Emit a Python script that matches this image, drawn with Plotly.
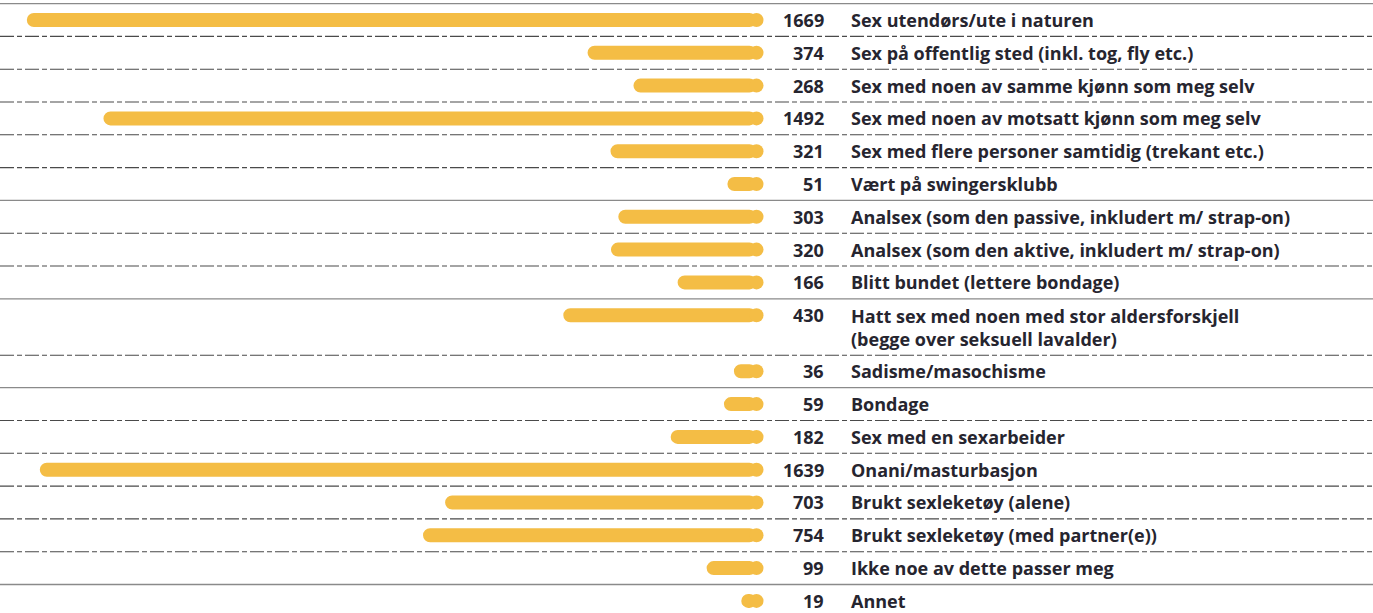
import plotly.graph_objects as go

# ---- data ----
labels = [
    "Sex utendørs/ute i naturen",
    "Sex på offentlig sted (inkl. tog, fly etc.)",
    "Sex med noen av samme kjønn som meg selv",
    "Sex med noen av motsatt kjønn som meg selv",
    "Sex med flere personer samtidig (trekant etc.)",
    "Vært på swingersklubb",
    "Analsex (som den passive, inkludert m/ strap-on)",
    "Analsex (som den aktive, inkludert m/ strap-on)",
    "Blitt bundet (lettere bondage)",
    "Hatt sex med noen med stor aldersforskjell<br>(begge over seksuell lavalder)",
    "Sadisme/masochisme",
    "Bondage",
    "Sex med en sexarbeider",
    "Onani/masturbasjon",
    "Brukt sexleketøy (alene)",
    "Brukt sexleketøy (med partner(e))",
    "Ikke noe av dette passer meg",
    "Annet",
]
values = [1669, 374, 268, 1492, 321, 51, 303, 320, 166, 430,
          36, 59, 182, 1639, 703, 754, 99, 19]

# ---- style ----
W, H = 1373, 613
BAR_COLOR = "#F4BD45"
TEXT_COLOR = "#26252f"
FONT = "Open Sans"
FS = 18
PX_PER_UNIT = 0.433          # horizontal scale
BAR_H_PX = 14                # bar thickness
ANCHOR_PX = 756.5            # centre of the right round cap
ROW_PX = 32.8                # row pitch
FIRST_ROW_PX = 20
EXTRA_LINE = 0.71            # extra rows per additional text line
LINE_PX = 24

cap_units = (BAR_H_PX / 2) / PX_PER_UNIT

# row positions (in row units) derived from label line counts
nlines = [lab.count("<br>") + 1 for lab in labels]
ypos = []
acc = 0.0
for i, n in enumerate(nlines):
    ypos.append(acc)
    acc += 1 + EXTRA_LINE * (n - 1)

fig = go.Figure()
fig.add_trace(go.Bar(
    orientation="h",
    y=ypos,
    x=[v + cap_units for v in values],
    base=0,
    width=BAR_H_PX / ROW_PX,
    marker=dict(color=BAR_COLOR, line=dict(width=0), cornerradius="50%"),
    hoverinfo="skip",
))
fig.add_trace(go.Scatter(
    x=[0] * len(values), y=ypos, mode="markers",
    marker=dict(size=BAR_H_PX, color=BAR_COLOR, line=dict(width=0)),
    hoverinfo="skip",
))

# separators
solid_after = {-1, 5, 8, 10, 16}
seps = [(-1, ypos[0] - 0.5)]
for i in range(len(values) - 1):
    bottom = ypos[i] + (nlines[i] - 1) * (LINE_PX / ROW_PX)
    seps.append((i, (bottom + ypos[i + 1]) / 2))
for idx, yv in seps:
    solid = idx in solid_after
    fig.add_shape(type="line", xref="paper", x0=0, x1=1, yref="y", y0=yv, y1=yv,
                  line=dict(color="#8a8a8a" if solid else "#4a4a4a",
                            width=1.3 if solid else 1.1,
                            dash="solid" if solid else "14px,3px,5px,3px"),
                  layer="below")

# numbers and labels
for i, (lab, v) in enumerate(zip(labels, values)):
    fig.add_annotation(x=826 / W, xref="paper", y=ypos[i], yref="y",
                       text=f"<b>{v}</b>", showarrow=False,
                       xanchor="right", yanchor="middle",
                       font=dict(family=FONT, size=FS, color=TEXT_COLOR))
    shift = -(nlines[i] - 1) * LINE_PX / 2
    fig.add_annotation(x=849 / W, xref="paper", y=ypos[i], yref="y",
                       text=f"<b>{lab}</b>", showarrow=False, align="left",
                       xanchor="left", yanchor="middle", yshift=shift,
                       font=dict(family=FONT, size=FS, color=TEXT_COLOR))

x_left = ANCHOR_PX / PX_PER_UNIT
x_right = (ANCHOR_PX - W) / PX_PER_UNIT
y_top = -FIRST_ROW_PX / ROW_PX
y_bot = (H - FIRST_ROW_PX) / ROW_PX

fig.update_layout(
    width=W, height=H,
    margin=dict(l=0, r=0, t=0, b=0),
    paper_bgcolor="white", plot_bgcolor="white",
    showlegend=False,
    xaxis=dict(range=[x_left, x_right], visible=False, fixedrange=True),
    yaxis=dict(range=[y_bot, y_top], visible=False, fixedrange=True),
    barmode="overlay",
)

fig.write_html("out.html", include_plotlyjs=True,
               config={"displayModeBar": False},
               post_script="document.body.style.margin='0';document.body.style.overflow='hidden';")
